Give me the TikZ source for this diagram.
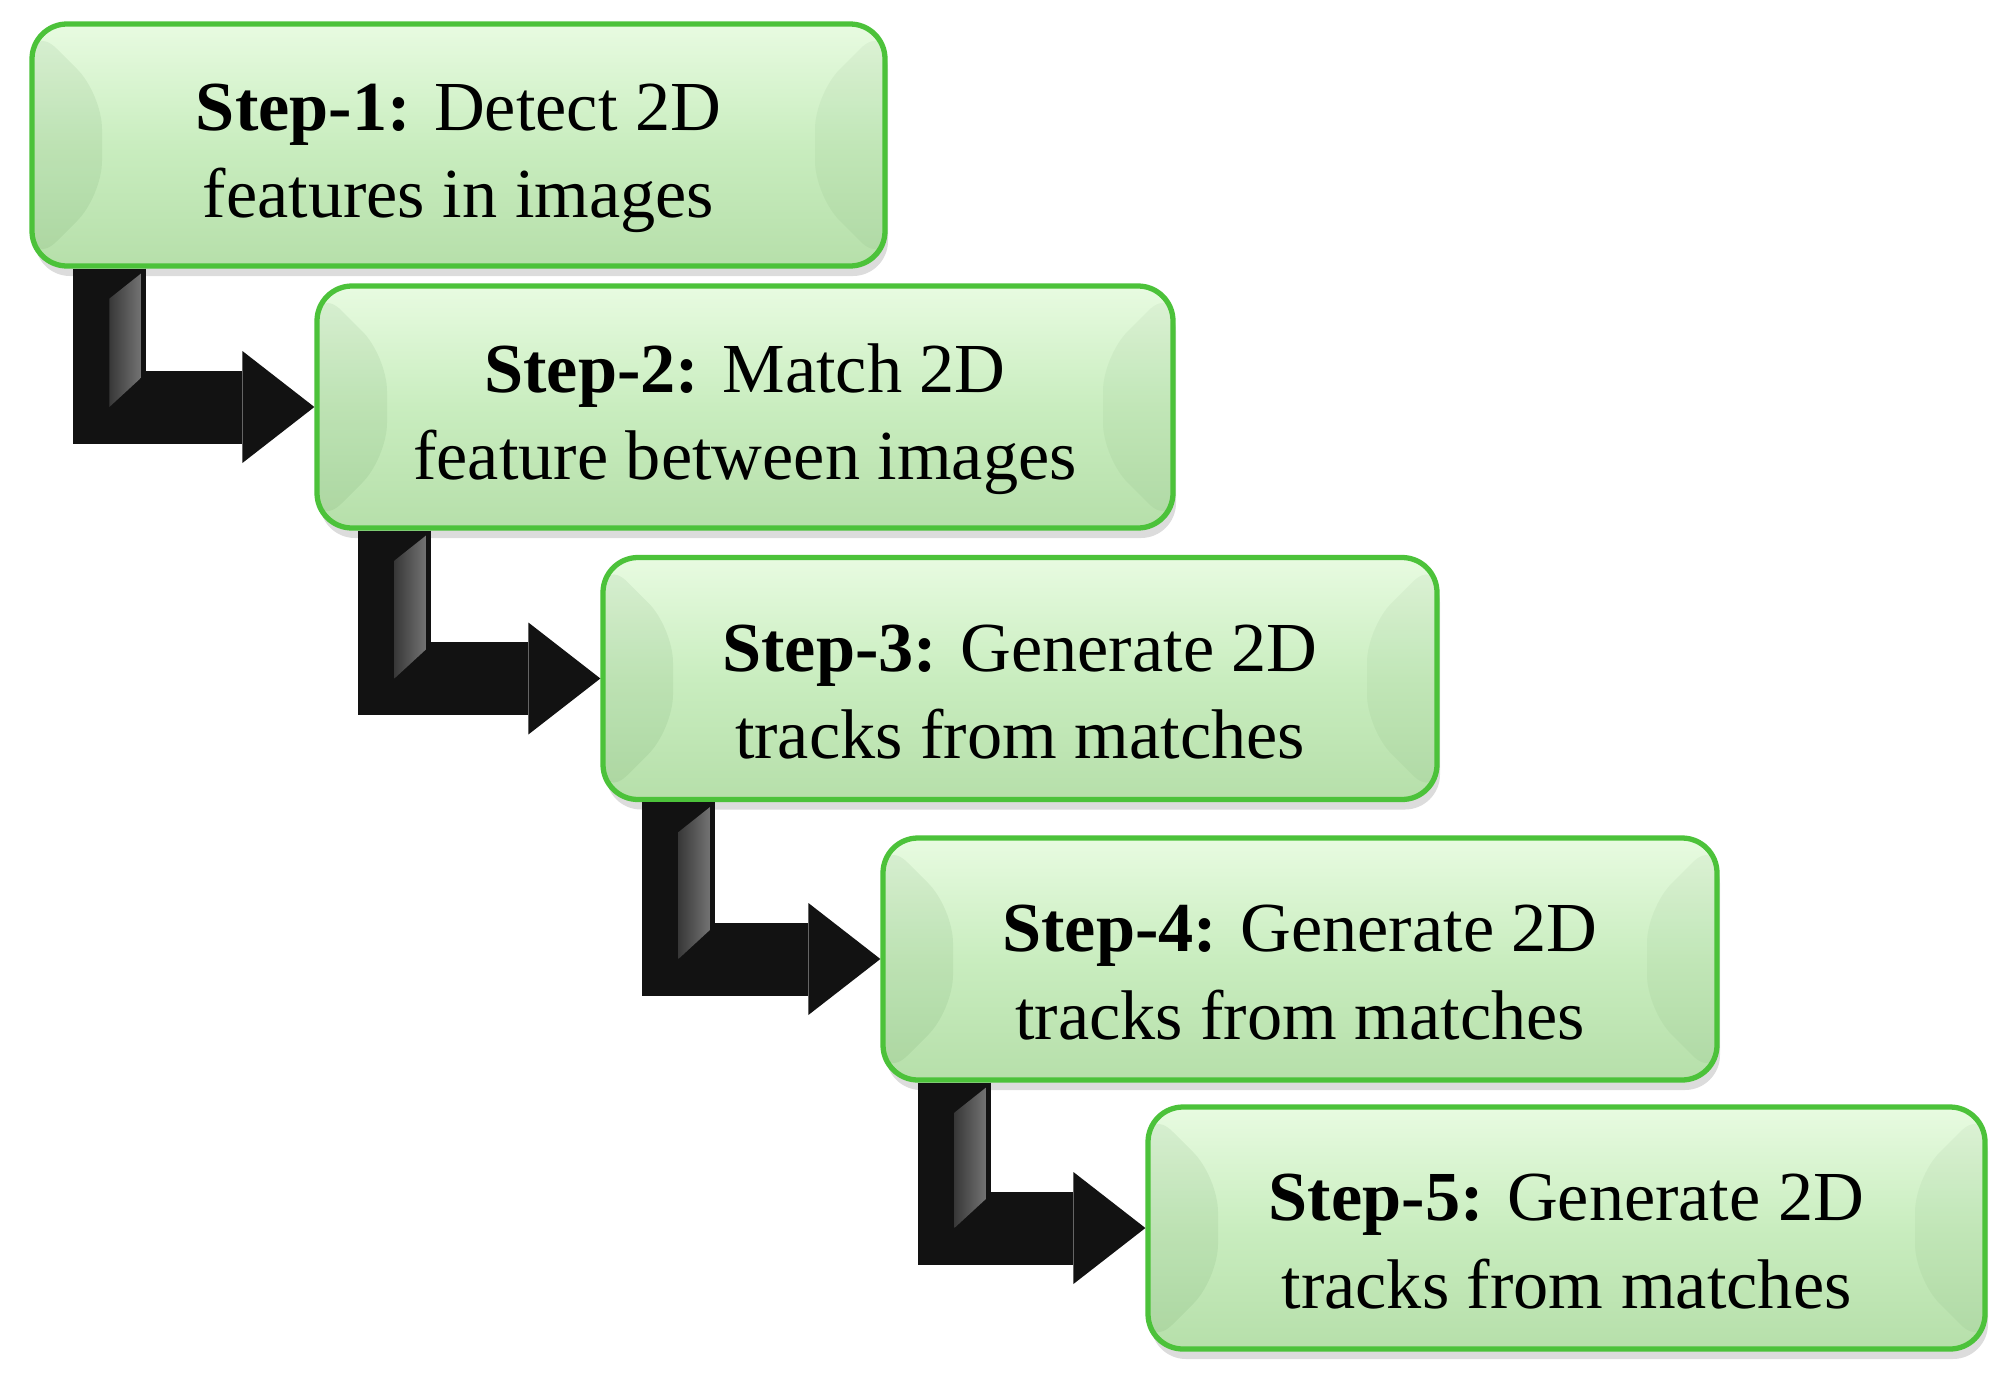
\documentclass[tikz,border=0pt]{standalone}
\usepackage{fontspec}
\setmainfont{Liberation Serif}
\usetikzlibrary{shapes,calc,arrows.meta,shadows}

\definecolor{boxgreen}{HTML}{4CC23A}
\definecolor{boxtop}{HTML}{E8FBE1}
\definecolor{boxmid}{HTML}{C9EDBF}
\definecolor{boxbot}{HTML}{B6DFAA}

\begin{document}
\begin{tikzpicture}[stepbox/.style={shape=rectangle,rounded corners=0.35cm,draw=boxgreen,line width=1.5pt,top color=boxtop,bottom color=boxbot,middle color=boxmid,minimum height=2.42cm,inner sep=0pt,align=center,font=\fontsize{20}{24.8}\selectfont,drop shadow={shadow xshift=0.03cm,shadow yshift=-0.1cm,opacity=0.28},path picture={\fill[green!25!black,opacity=0.06] (path picture bounding box.north west) -- ([shift={(0.7,-0.7)}]path picture bounding box.north west) -- ([shift={(0.7,0.7)}]path picture bounding box.south west) -- (path picture bounding box.south west) -- cycle;\fill[green!25!black,opacity=0.04] (path picture bounding box.north east) -- ([shift={(-0.7,-0.7)}]path picture bounding box.north east) -- ([shift={(-0.7,0.7)}]path picture bounding box.south east) -- (path picture bounding box.south east) -- cycle;}},flow/.style={line width=0.73cm,draw=black!93,-{Triangle[length=0.72cm,width=1.12cm,line width=0pt]}},bevel/.style={left color=black!78,right color=black!55}]
\useasboundingbox (0,0) rectangle (20.12,-13.97);
\node[stepbox,minimum width=8.53cm] (1) at (4.585,-1.45) {\rule{0pt}{21pt}\textbf{Step-1:} Detect 2D\\features in images};
\node[stepbox,minimum width=8.56cm] (2) at (7.45,-4.07) {\rule{0pt}{21pt}\textbf{Step-2:} Match 2D\\feature between images};
\node[stepbox,minimum width=8.34cm] (3) at (10.20,-6.785) {\rule{0pt}{21pt}\textbf{Step-3:} Generate 2D\\tracks from matches};
\node[stepbox,minimum width=8.34cm] (4) at (13.00,-9.59) {\rule{0pt}{21pt}\textbf{Step-4:} Generate 2D\\tracks from matches};
\node[stepbox,minimum width=8.37cm] (5) at (15.665,-12.28) {\rule{0pt}{21pt}\textbf{Step-5:} Generate 2D\\tracks from matches};

\coordinate (a1) at ($(1.south west)+(0.8,0)$);
\coordinate (e1) at (a1 |- 2.west);
\draw[flow] (a1) |- (2.west);
\shade[bevel] ($(a1)+(0,-0.30)$) -- ($(a1)+(0.315,-0.05)$) -- ($(e1)+(0.315,0.29)$) -- (e1) -- cycle;

\coordinate (a2) at ($(2.south west)+(0.8,0)$);
\coordinate (e2) at (a2 |- 3.west);
\draw[flow] (a2) |- (3.west);
\shade[bevel] ($(a2)+(0,-0.30)$) -- ($(a2)+(0.315,-0.05)$) -- ($(e2)+(0.315,0.29)$) -- (e2) -- cycle;

\coordinate (a3) at ($(3.south west)+(0.78,0)$);
\coordinate (e3) at (a3 |- 4.west);
\draw[flow] (a3) |- (4.west);
\shade[bevel] ($(a3)+(0,-0.30)$) -- ($(a3)+(0.315,-0.05)$) -- ($(e3)+(0.315,0.29)$) -- (e3) -- cycle;

\coordinate (a4) at ($(4.south west)+(0.74,0)$);
\coordinate (e4) at (a4 |- 5.west);
\draw[flow] (a4) |- (5.west);
\shade[bevel] ($(a4)+(0,-0.30)$) -- ($(a4)+(0.315,-0.05)$) -- ($(e4)+(0.315,0.29)$) -- (e4) -- cycle;
\end{tikzpicture}
\end{document}
